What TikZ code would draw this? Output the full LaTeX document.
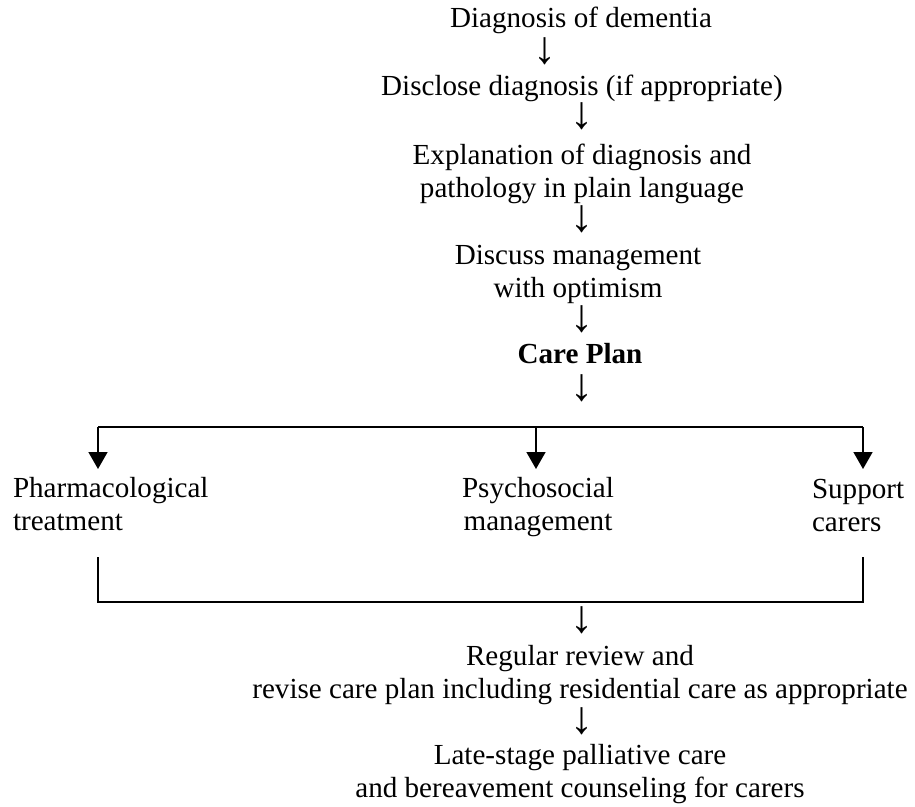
\documentclass[tikz,border=0pt]{standalone}
\usepackage{fontspec}
\setmainfont{Liberation Serif}
\usetikzlibrary{arrows.meta}
\begin{document}
\begin{tikzpicture}[x=1pt,y=-1pt,
  every node/.style={inner sep=0pt, outer sep=0pt, font=\fontsize{29.1}{33}\selectfont},
  txt/.style={anchor=base, align=center},
  leftblk/.style={anchor=base west, align=left},
  dnarrow/.style={anchor=center, font=\fontsize{46}{46}\selectfont},
  conn/.style={line width=1.6pt},
  tipconn/.style={conn, -{Triangle[width=19pt,length=17pt]}}]
\useasboundingbox (0,0) rectangle (915,806);

\node[txt] (d1) at (581,27) {Diagnosis of dementia};
\node[dnarrow] (a1) at (545,51) {↓};
\node[txt] (d2) at (582,95) {Disclose diagnosis (if appropriate)};
\node[dnarrow] (a2) at (582,116) {↓};
\node[txt] (d3) at (582,197) {Explanation of diagnosis and\\pathology in plain language};
\node[dnarrow] (a3) at (582,219) {↓};
\node[txt] (d4) at (578,297) {Discuss management\\with optimism};
\node[dnarrow] (a4) at (582,319) {↓};
\node[txt] (d5) at (580,363) {\textbf{Care Plan}};
\node[dnarrow] (a5) at (582,388) {↓};

\node[leftblk] (p1) at (13,530) {Pharmacological\\treatment};
\node[txt] (p2) at (538,530) {Psychosocial\\management};
\node[leftblk] (p3) at (812,531) {Support\\carers};

\coordinate (bl) at (98,427);
\coordinate (bm) at (536,427);
\coordinate (br) at (863,427);
\coordinate (t1) at (98,469);
\coordinate (t2) at (536,469);
\coordinate (t3) at (863,469);
\draw[conn] (bl) -- (br);
\draw[tipconn] (bl) -- (t1);
\draw[tipconn] (bm) -- (t2);
\draw[tipconn] (br) -- (t3);

\coordinate (ul) at (98,557);
\coordinate (ur) at (863,557);
\coordinate (ll) at (98,602);
\coordinate (lr) at (863,602);
\draw[conn] (ul) -- (ll) -- (lr) -- (ur);

\node[dnarrow] (a6) at (582,620) {↓};
\node[txt] (r1) at (580,698) {Regular review and\\revise care plan including residential care as appropriate};
\node[dnarrow] (a7) at (582,721) {↓};
\node[txt] (r2) at (580,797) {Late-stage palliative care\\and bereavement counseling for carers};
\end{tikzpicture}
\end{document}
